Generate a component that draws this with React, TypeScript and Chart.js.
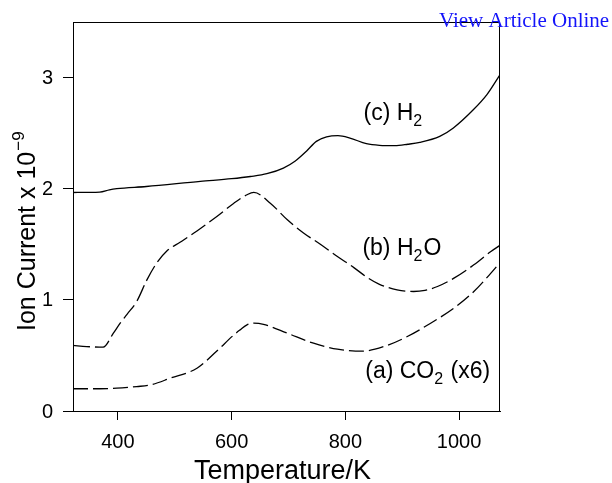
import React, { useEffect, useRef } from 'react';
import { Chart, registerables } from 'chart.js';

Chart.register(...registerables);

const FONT = '"Liberation Sans", Arial, Helvetica, sans-serif';

// (c) H2 — temperature (K) and ion current (x1e-9)
const h2T = [321, 368, 385, 398, 450, 545, 600, 633, 662, 691, 712, 732, 749, 767, 787, 808, 837, 860, 887, 910, 931, 966, 990, 1025, 1049, 1071];
const h2V = [1.966, 1.97, 1.99, 2.0, 2.02, 2.066, 2.09, 2.11, 2.135, 2.186, 2.25, 2.34, 2.426, 2.466, 2.477, 2.456, 2.405, 2.39, 2.387, 2.4, 2.417, 2.471, 2.547, 2.71, 2.847, 3.018];

// (b) H2O
const h2oT = [321, 345, 374, 392, 404, 416, 433, 451, 468, 486, 510, 539, 574, 604, 627, 639, 668, 698, 727, 756, 786, 815, 839, 860, 891, 920, 940, 962, 991, 1026, 1056, 1072];
const h2oV = [0.59, 0.58, 0.574, 0.7, 0.79, 0.87, 0.985, 1.18, 1.33, 1.44, 1.52, 1.62, 1.75, 1.87, 1.946, 1.967, 1.87, 1.72, 1.6, 1.5, 1.39, 1.29, 1.2, 1.14, 1.09, 1.075, 1.085, 1.12, 1.195, 1.315, 1.435, 1.49];

// (a) CO2 (x6)
const co2T = [321, 368, 398, 433, 457, 492, 539, 574, 604, 615, 627, 639, 656, 698, 744, 786, 830, 868, 909, 950, 991, 1026, 1056, 1071];
const co2V = [0.2, 0.2, 0.205, 0.22, 0.234, 0.295, 0.385, 0.54, 0.685, 0.73, 0.775, 0.79, 0.78, 0.7, 0.61, 0.556, 0.538, 0.58, 0.67, 0.79, 0.925, 1.075, 1.24, 1.33];

const xTicks = [400, 600, 800, 1000];
const yTicks = [0, 1, 2, 3];
const xMin = 321;
const xMax = 1072;
const yMin = 0;
const yMax = 3.5;

const xTitle = 'Temperature/K';
const yTitle = 'Ion Current x 10';
const yTitleSup = '\u22129';
const watermark = 'View Article Online';

// label anchors in data units (K, value)
const labels = [
  { x: 832, y: 2.62, parts: [{ t: '(c) H' }, { t: '2', sub: true }] },
  { x: 830, y: 1.405, parts: [{ t: '(b) H' }, { t: '2', sub: true }, { t: 'O' }] },
  { x: 835, y: 0.297, parts: [{ t: '(a) CO' }, { t: '2', sub: true }, { t: ' (x6)' }] },
];

const toXY = (xs: number[], ys: number[]) => xs.map((x, i) => ({ x, y: ys[i] }));

const decorPlugin = {
  id: 'decor',
  afterDraw(chart: any) {
    const ctx = chart.ctx as CanvasRenderingContext2D;
    const a = chart.chartArea;
    const xs = chart.scales.x;
    const ys = chart.scales.y;
    ctx.save();
    // frame top & right
    ctx.strokeStyle = '#000';
    ctx.lineWidth = 1;
    ctx.beginPath();
    ctx.moveTo(a.left, a.top + 0.5);
    ctx.lineTo(a.right, a.top + 0.5);
    ctx.moveTo(a.right - 0.5, a.top);
    ctx.lineTo(a.right - 0.5, a.bottom);
    ctx.stroke();

    ctx.fillStyle = '#000';

    // y tick labels
    ctx.font = `20px ${FONT}`;
    ctx.textAlign = 'right';
    ctx.textBaseline = 'middle';
    for (const v of yTicks) {
      ctx.fillText(String(v), a.left - 20, ys.getPixelForValue(v) + 1);
    }

    ctx.textBaseline = 'alphabetic';
    ctx.textAlign = 'left';
    // curve labels
    for (const l of labels) {
      let px = xs.getPixelForValue(l.x);
      const py = ys.getPixelForValue(l.y);
      for (const p of l.parts as any[]) {
        ctx.font = p.sub ? `16px ${FONT}` : `23px ${FONT}`;
        ctx.fillText(p.t, px, p.sub ? py + 6 : py);
        px += ctx.measureText(p.t).width + (p.sub ? 1 : 0);
      }
    }

    // x title
    ctx.font = `27px ${FONT}`;
    ctx.textAlign = 'center';
    ctx.fillText(xTitle, (a.left + a.right) / 2 - 4, chart.height - 4);

    // y title rotated with superscript
    ctx.save();
    ctx.translate(35, ys.getPixelForValue(0) - 80);
    ctx.rotate(-Math.PI / 2);
    ctx.textAlign = 'left';
    ctx.font = `25px ${FONT}`;
    ctx.fillText(yTitle, 0, 0);
    const w = ctx.measureText(yTitle).width;
    ctx.font = `17px ${FONT}`;
    ctx.fillText(yTitleSup, w + 1, -11);
    ctx.restore();

    // watermark
    ctx.font = `21px "Liberation Serif", "Times New Roman", serif`;
    ctx.fillStyle = 'rgb(20,20,250)';
    ctx.textAlign = 'left';
    ctx.fillText(watermark, 439, 27);
    ctx.restore();
  },
};

export default function App() {
  const ref = useRef<HTMLCanvasElement | null>(null);
  useEffect(() => {
    if (!ref.current) return;
    const common = {
      borderColor: '#000',
      borderWidth: 1.3,
      pointRadius: 0,
      fill: false,
      cubicInterpolationMode: 'monotone' as const,
    };
    const chart = new Chart(ref.current, {
      type: 'line',
      data: {
        datasets: [
          { ...common, label: 'H2', data: toXY(h2T, h2V) },
          { ...common, label: 'H2O', data: toXY(h2oT, h2oV), borderDash: [17, 5] },
          { ...common, label: 'CO2', data: toXY(co2T, co2V), borderDash: [15, 5] },
        ],
      },
      options: {
        responsive: false,
        animation: false,
        layout: { padding: { left: 0, right: 112, top: 22, bottom: 0 } },
        plugins: { legend: { display: false }, tooltip: { enabled: false } },
        scales: {
          x: {
            type: 'linear',
            min: xMin,
            max: xMax,
            afterBuildTicks: (s: any) => { s.ticks = xTicks.map((v) => ({ value: v })); },
            afterFit: (s: any) => { s.height = 72; },
            grid: { drawOnChartArea: false, drawTicks: true, tickLength: 9, color: '#000', lineWidth: 1 },
            border: { display: true, color: '#000', width: 1 },
            ticks: { color: '#000', padding: 10, maxRotation: 0, font: { family: FONT, size: 20 }, callback: (v: any) => String(v) },
          },
          y: {
            type: 'linear',
            min: yMin,
            max: yMax,
            afterBuildTicks: (s: any) => { s.ticks = yTicks.map((v) => ({ value: v })); },
            afterFit: (s: any) => { s.width = 73; },
            grid: { drawOnChartArea: false, drawTicks: true, tickLength: 10, color: '#000', lineWidth: 1 },
            border: { display: true, color: '#000', width: 1 },
            ticks: { display: false },
          },
        },
      },
      plugins: [decorPlugin],
    });
    return () => chart.destroy();
  }, []);
  return (
    <div style={{ position: 'fixed', left: 0, top: 0, width: 612, height: 483, background: '#fff' }}>
      <canvas ref={ref} width={612} height={483} />
    </div>
  );
}
